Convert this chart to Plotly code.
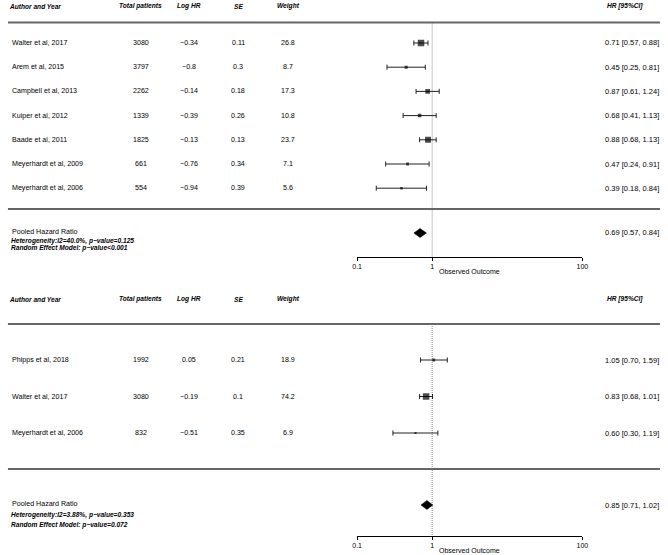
import plotly.graph_objects as go

# ---------------- data ----------------
top_studies = ["Walter et al, 2017", "Arem et al, 2015", "Campbell et al, 2013", "Kuiper et al, 2012",
               "Baade et al, 2011", "Meyerhardt et al, 2009", "Meyerhardt et al, 2006"]
top_patients = [3080, 3797, 2262, 1339, 1825, 661, 554]
top_loghr = [-0.34, -0.8, -0.14, -0.39, -0.13, -0.76, -0.94]
top_se = [0.11, 0.3, 0.18, 0.26, 0.13, 0.34, 0.39]
top_weight = [26.8, 8.7, 17.3, 10.8, 23.7, 7.1, 5.6]
top_hr = [0.71, 0.45, 0.87, 0.68, 0.88, 0.47, 0.39]
top_lo = [0.57, 0.25, 0.61, 0.41, 0.68, 0.24, 0.18]
top_hi = [0.88, 0.81, 1.24, 1.13, 1.13, 0.91, 0.84]
top_pooled = (0.69, 0.57, 0.84)
top_het = "Heterogeneity:I2=40.0%, p\u2212value=0.125"
top_rem = "Random Effect Model: p\u2212value<0.001"

bot_studies = ["Phipps et al, 2018", "Walter et al, 2017", "Meyerhardt et al, 2006"]
bot_patients = [1992, 3080, 832]
bot_loghr = [0.05, -0.19, -0.51]
bot_se = [0.21, 0.1, 0.35]
bot_weight = [18.9, 74.2, 6.9]
bot_hr = [1.05, 0.83, 0.60]
bot_lo = [0.70, 0.68, 0.30]
bot_hi = [1.59, 1.01, 1.19]
bot_pooled = (0.85, 0.71, 1.02)
bot_het = "Heterogeneity:I2=3.88%, p\u2212value=0.353"
bot_rem = "Random Effect Model: p\u2212value=0.072"

headers = ["Author and Year", "Total patients", "Log HR", "SE", "Weight", "HR [95%CI]"]
tick_vals = [0.1, 1, 100]
tick_text = ["0.1", "1", "100"]
axis_title = "Observed Outcome"
pooled_label = "Pooled Hazard Ratio"

# ---------------- layout helpers ----------------
W, H = 668, 555
FONT = "Liberation Sans, Arial, Helvetica, sans-serif"
AX_X0, AX_X1 = 358, 587


def px(x):
    return x / W


def py(y):
    return 1 - y / H


def num(v):
    return str(v).replace("-", "\u2212")


fig = go.Figure()
annotations = []
shapes = []


def add_text(x, y, text, anchor="left", size=7.1):
    annotations.append(dict(x=px(x), y=py(y), xref="paper", yref="paper", text=text,
                            showarrow=False, xanchor=anchor, yanchor="middle",
                            font=dict(family=FONT, size=size, color="black"), borderpad=0))


def panel(idx, studies, patients, loghr, se, weight, hr, lo, hi, pooled, het, rem, g):
    xa = "x" if idx == 1 else "x2"
    ya = "y" if idx == 1 else "y2"
    # headers
    add_text(3, g["header"], "<b><i>%s</i></b>" % headers[0], "left", 6.6)
    add_text(138, g["header"], "<b><i>%s</i></b>" % headers[1], "center", 6.6)
    add_text(187, g["header"], "<b><i>%s</i></b>" % headers[2], "center", 6.6)
    add_text(237, g["header"], "<b><i>%s</i></b>" % headers[3], "center", 6.6)
    add_text(288, g["header"], "<b><i>%s</i></b>" % headers[4], "center", 6.6)
    add_text(611, g["header"], "<b><i>%s</i></b>" % headers[5], "left", 6.6)
    # rules
    for yy in (g["line1"], g["line2"]):
        shapes.append(dict(type="line", xref="paper", yref="paper", x0=px(3), x1=px(666),
                           y0=py(yy), y1=py(yy), line=dict(color="#666666", width=1.8)))
    ys = [g["row0"] + g["step"] * i for i in range(len(studies))]
    for i, s in enumerate(studies):
        y = ys[i]
        add_text(6, y, s)
        add_text(138, y, str(patients[i]), "center")
        add_text(187, y, num(loghr[i]), "center")
        add_text(237, y, num(se[i]), "center")
        add_text(288, y, num(weight[i]), "center")
        add_text(609, y, "%.2f [%.2f, %.2f]" % (hr[i], lo[i], hi[i]), "left", 7.5)
    # reference line at 1
    fig.add_trace(go.Scatter(x=[1, 1], y=[g["line1"], g["axis"]], mode="lines", xaxis=xa, yaxis=ya,
                             line=dict(color="#8a8a8a", width=1, dash="1px,1px"), hoverinfo="skip",
                             showlegend=False))
    # CIs and squares
    wmax = max(weight)
    sizes = [1.5 + 5 * w / wmax for w in weight]
    fig.add_trace(go.Scatter(x=hr, y=ys, mode="markers", xaxis=xa, yaxis=ya,
                             marker=dict(symbol="square", size=sizes, color="black",
                                         line=dict(width=0)),
                             error_x=dict(type="data", symmetric=False,
                                          array=[h - m for h, m in zip(hi, hr)],
                                          arrayminus=[m - l for m, l in zip(hr, lo)],
                                          width=2.5, thickness=1, color="#222222"),
                             showlegend=False, hoverinfo="skip"))
    # pooled diamond
    p, pl, ph = pooled
    yc, dh = g["diamond"], g["dh"]
    fig.add_trace(go.Scatter(x=[pl, p, ph, p, pl], y=[yc, yc - dh, yc, yc + dh, yc], mode="lines",
                             fill="toself", fillcolor="black", line=dict(color="black", width=0.5),
                             xaxis=xa, yaxis=ya, showlegend=False, hoverinfo="skip"))
    add_text(609, yc, "%.2f [%.2f, %.2f]" % (p, pl, ph), "left", 7.5)
    add_text(6, g["pooled"], pooled_label)
    add_text(5, g["het"], "<b><i>%s</i></b>" % het, "left", 6.6)
    add_text(5, g["rem"], "<b><i>%s</i></b>" % rem, "left", 6.6)
    add_text((AX_X0 + AX_X1) / 2, g["title"], axis_title, "center", 7)


g_top = dict(header=6, line1=22.5, row0=43, step=24.2, line2=209, pooled=232, het=240.5, rem=247.5,
             diamond=233, dh=4.5, axis=257, title=271, top=0)
g_bot = dict(header=299, line1=324, row0=360, step=36.5, line2=469, pooled=504, het=514.5, rem=524.5,
             diamond=505, dh=4.5, axis=536, title=550, top=290)

panel(1, top_studies, top_patients, top_loghr, top_se, top_weight, top_hr, top_lo, top_hi,
      top_pooled, top_het, top_rem, g_top)
panel(2, bot_studies, bot_patients, bot_loghr, bot_se, bot_weight, bot_hr, bot_lo, bot_hi,
      bot_pooled, bot_het, bot_rem, g_bot)

xcommon = dict(type="log", range=[-1, 2], domain=[px(AX_X0), px(AX_X1)], tickvals=tick_vals,
               ticktext=tick_text, showline=True, linecolor="black", linewidth=1, ticks="outside",
               ticklen=3, tickwidth=1, tickcolor="black", showgrid=False, zeroline=False,
               tickfont=dict(family=FONT, size=7, color="black"), fixedrange=True)

fig.update_layout(
    width=W, height=H, margin=dict(l=0, r=0, t=0, b=0),
    paper_bgcolor="white", plot_bgcolor="rgba(0,0,0,0)",
    xaxis=dict(xcommon, anchor="y"),
    xaxis2=dict(xcommon, anchor="y2"),
    yaxis=dict(range=[g_top["axis"], g_top["top"]], domain=[py(g_top["axis"]), py(g_top["top"])],
               visible=False, anchor="x", fixedrange=True),
    yaxis2=dict(range=[g_bot["axis"], g_bot["top"]], domain=[py(g_bot["axis"]), py(g_bot["top"])],
                visible=False, anchor="x2", fixedrange=True),
    annotations=annotations, shapes=shapes, showlegend=False,
)

fig.write_html("out.html", config={"displayModeBar": False},
               post_script="document.body.style.margin='0px';document.body.style.overflow='hidden';")
